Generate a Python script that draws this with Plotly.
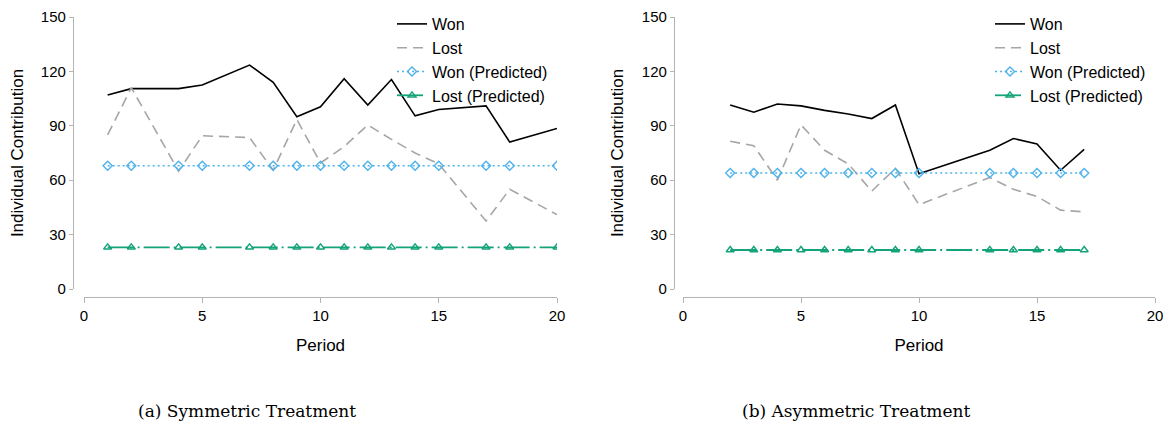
import plotly.graph_objects as go

# page body has an 8px margin: figure is drawn from (8, 8)
OFF = 8
W, H = 1173 - OFF, 428 - OFF

# ---- data ----
periods_sym = [1, 2, 4, 5, 7, 8, 9, 10, 11, 12, 13, 14, 15, 17, 18, 20]
won_sym = [107, 110.5, 110.5, 112.5, 123.5, 114, 95, 100.5, 116, 101.5, 115.5, 95.5, 99, 101, 81, 88.5]
lost_sym = [85, 111, 65, 84.5, 83.5, 65.5, 93.5, 69.5, 78.5, 90.5, 82.5, 75, 69, 37.5, 55, 41]
won_pred_sym = [68] * len(periods_sym)
lost_pred_sym = [23] * len(periods_sym)

periods_asym = [2, 3, 4, 5, 6, 7, 8, 9, 10, 13, 14, 15, 16, 17]
won_asym = [101.5, 97.5, 102, 101, 98.5, 96.5, 94, 101.5, 63.5, 76.5, 83, 80, 65.5, 77]
lost_asym = [81.5, 79, 60, 90.5, 76.5, 69, 54, 66.5, 46.5, 61.5, 55, 51, 43.5, 42.5]
won_pred_asym = [64] * len(periods_asym)
lost_pred_asym = [21.5] * len(periods_asym)

series_names = ["Won", "Lost", "Won (Predicted)", "Lost (Predicted)"]
captions = ["(a) Symmetric Treatment", "(b) Asymmetric Treatment"]
x_ticks = [0, 5, 10, 15, 20]
y_ticks = [0, 30, 60, 90, 120, 150]

BLACK = "#000000"
GRAY = "#a6a6a6"
BLUE = "#4fb3ea"
GREEN = "#15a37a"
AXC = "#b4b4b4"
FONT = "Liberation Sans, Arial, sans-serif"

fig = go.Figure()

def px_x(p):
    return (p - OFF) / W

def px_y(p):
    return 1 - (p - OFF) / H

panels = [
    dict(x=periods_sym, ys=[won_sym, lost_sym, won_pred_sym, lost_pred_sym],
         xa="x", ya="y", legend="legend"),
    dict(x=periods_asym, ys=[won_asym, lost_asym, won_pred_asym, lost_pred_asym],
         xa="x2", ya="y2", legend="legend2"),
]

styles = [
    dict(mode="lines", line=dict(color=BLACK, width=1.6)),
    dict(mode="lines", line=dict(color=GRAY, width=1.6, dash="10px,6px")),
    dict(mode="lines+markers", line=dict(color=BLUE, width=1.5, dash="2px,3px"),
         marker=dict(symbol="diamond-open", size=7, color=BLUE, line=dict(width=1.4))),
    dict(mode="lines+markers", line=dict(color=GREEN, width=1.8, dash="26px,4px,2px,4px"),
         marker=dict(symbol="triangle-up-open", size=7, color=GREEN, line=dict(width=1.4))),
]

for pi, pnl in enumerate(panels):
    for si in range(4):
        st = styles[si]
        fig.add_trace(go.Scatter(
            x=pnl["x"], y=pnl["ys"][si], name=series_names[si],
            xaxis=pnl["xa"], yaxis=pnl["ya"], legend=pnl["legend"],
            mode=st["mode"], line=st["line"], marker=st.get("marker"),
            hoverinfo="skip",
        ))

y_dom = [px_y(289), px_y(17)]
x_line_pos = px_y(297)

common_x = dict(range=[0, 20], tickvals=x_ticks, showgrid=False, zeroline=False,
                showline=True, linecolor=AXC, linewidth=1.2, ticks="outside",
                ticklen=5, tickcolor=AXC, tickfont=dict(family=FONT, size=15, color="black"),
                anchor="free", position=x_line_pos, automargin=False,
                title=dict(text="Period", font=dict(family=FONT, size=17, color="black"), standoff=16))
common_y = dict(range=[0, 150], tickvals=y_ticks, showgrid=False, zeroline=False,
                showline=True, linecolor=AXC, linewidth=1.2, ticks="outside",
                ticklen=4, tickcolor=AXC, tickfont=dict(family=FONT, size=15, color="black"),
                domain=y_dom, anchor="free", automargin=False,
                title=dict(text="Individual Contribution", font=dict(family=FONT, size=17, color="black"), standoff=12))

fig.update_layout(
    width=W, height=H,
    margin=dict(l=0, r=0, t=0, b=0, autoexpand=False),
    paper_bgcolor="white", plot_bgcolor="white",
    xaxis=dict(common_x, domain=[px_x(84), px_x(557)]),
    yaxis=dict(common_y, position=px_x(73)),
    xaxis2=dict(common_x, domain=[px_x(683), px_x(1155)]),
    yaxis2=dict(common_y, position=px_x(674)),
    legend=dict(x=px_x(392), y=px_y(7), xanchor="left", yanchor="top",
                bgcolor="rgba(0,0,0,0)", itemwidth=30, tracegroupgap=0,
                font=dict(family=FONT, size=16, color="black")),
    legend2=dict(x=px_x(990), y=px_y(7), xanchor="left", yanchor="top",
                 bgcolor="rgba(0,0,0,0)", itemwidth=30, tracegroupgap=0,
                 font=dict(family=FONT, size=16, color="black")),
    showlegend=True,
)

for cap, cx in zip(captions, [247, 856]):
    fig.add_annotation(text=cap, x=px_x(cx), y=px_y(411), xref="paper", yref="paper",
                       showarrow=False, xanchor="center", yanchor="middle",
                       font=dict(family="DejaVu Serif, Liberation Serif, serif", size=17, color="black"))

fig.write_html("out.html")
